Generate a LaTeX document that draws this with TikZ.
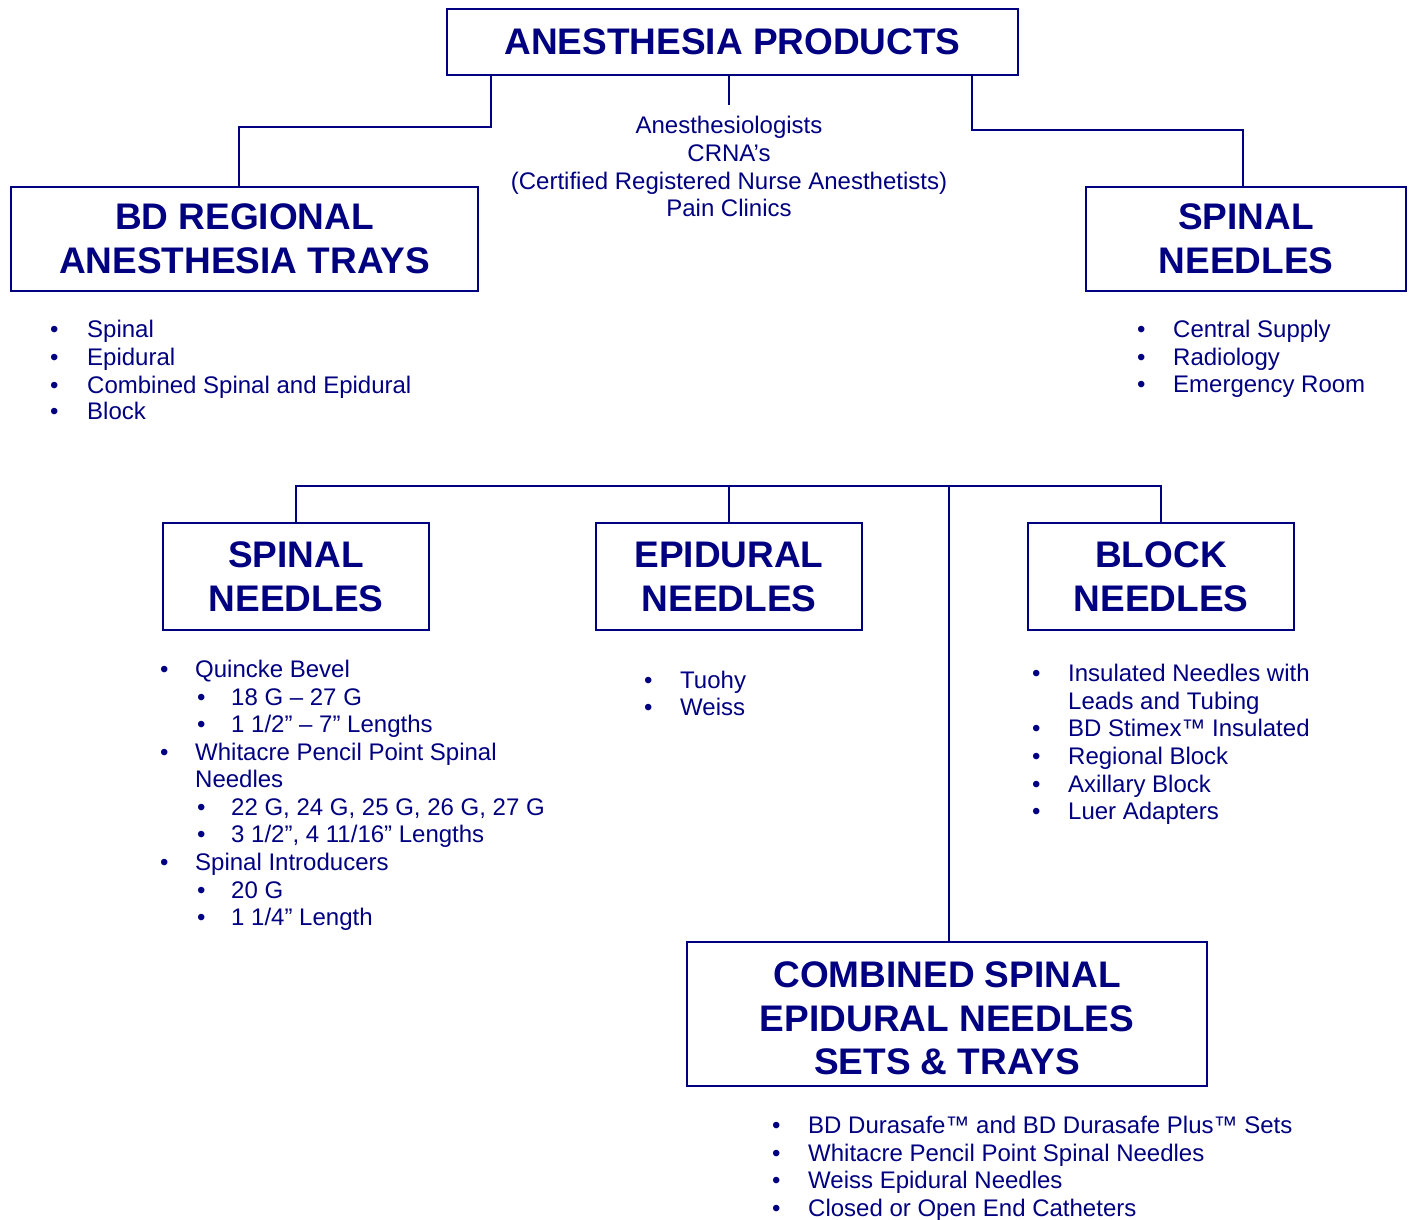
\documentclass[tikz,border=0pt]{standalone}
\usepackage{fontspec}
\setmainfont{Liberation Sans}
\definecolor{navy}{RGB}{0,0,128}
\tikzset{
  box/.style={draw=navy, line width=1.6pt, text=navy, font=\bfseries\fontsize{37}{44}\selectfont, align=center, inner sep=0pt},
  itm/.style={anchor=base west, inner sep=0pt, text=navy, font=\fontsize{24}{27.5}\selectfont},
  ctr/.style={anchor=base, inner sep=0pt, text=navy, font=\fontsize{24}{27.5}\selectfont},
  conn/.style={draw=navy, line width=1.6pt}
}
\newcommand\bitem[5]{\node[itm] (#1b) at (#2,#4) {•}; \node[itm] (#1) at (#3,#4) {#5};}
\newcommand\citem[3]{\node[itm] (#1) at (#2,#3) {};}
\begin{document}
\begin{tikzpicture}[x=1pt,y=-1pt]
\useasboundingbox (0,0) rectangle (1410,1220);

% boxes
\node[box, minimum width=571pt, minimum height=66pt] (top) at (732.5,42) {ANESTHESIA PRODUCTS};
\node[box, minimum width=467pt, minimum height=104pt] (trays) at (244.5,239) {BD REGIONAL\\ANESTHESIA TRAYS};
\node[box, minimum width=320pt, minimum height=104pt] (spn1) at (1246,239) {SPINAL\\NEEDLES};
\node[box, minimum width=266pt, minimum height=107pt] (spn2) at (296,576.5) {SPINAL\\NEEDLES};
\node[box, minimum width=266pt, minimum height=107pt] (epi) at (729,576.5) {EPIDURAL\\NEEDLES};
\node[box, minimum width=266pt, minimum height=107pt] (blk) at (1161,576.5) {BLOCK\\NEEDLES};
\node[box, minimum width=520pt, minimum height=144pt, font=\bfseries\fontsize{37}{43.5}\selectfont] (comb) at (947,1014)
  {\rule{0pt}{35pt}COMBINED SPINAL\\EPIDURAL NEEDLES\\SETS \& TRAYS};

% centre text
\node[ctr] (c1) at (729,134) {Anesthesiologists};
\node[ctr] (c2) at (729,161) {CRNA’s};
\node[ctr] (c3) at (729,189) {(Certified Registered Nurse Anesthetists)};
\node[ctr] (c4) at (729,216) {Pain Clinics};

% connectors
\coordinate (cend) at (729,105);
\draw[conn] (cend |- top.south) -- (cend);
\draw[conn] ([xshift=45pt]top.south west) -- ++(0,51) -| ([xshift=-5.5pt]trays.north);
\draw[conn] ([xshift=-47pt]top.south east) -- ++(0,54) -| ([xshift=-3pt]spn1.north);

\coordinate (bus) at (949,486);
\draw[conn] (spn2.north) -- (spn2.north |- bus) -| (blk.north);
\draw[conn] (epi.north) -- (epi.north |- bus);
\draw[conn] ([xshift=2pt]comb.north) -- ([xshift=2pt]comb.north |- bus);

% trays list
\bitem{t1}{50}{87}{337.5}{Spinal}
\bitem{t2}{50}{87}{365}{Epidural}
\bitem{t3}{50}{87}{393}{Combined Spinal and Epidural}
\bitem{t4}{50}{87}{419.5}{Block}

% spinal needles (top) list
\bitem{r1}{1137}{1173}{337}{Central Supply}
\bitem{r2}{1137}{1173}{365}{Radiology}
\bitem{r3}{1137}{1173}{392}{Emergency Room}

% spinal needles list
\bitem{s1}{160}{195}{677.5}{Quincke Bevel}
\bitem{s2}{197}{231}{705}{18 G – 27 G}
\bitem{s3}{197}{231}{732.5}{1 1/2” – 7” Lengths}
\bitem{s4}{160}{195}{760}{Whitacre Pencil Point Spinal}
\node[itm] (s5) at (195,787.5) {Needles};
\bitem{s6}{197}{231}{815}{22 G, 24 G, 25 G, 26 G, 27 G}
\bitem{s7}{197}{231}{842.5}{3 1/2”, 4 11/16” Lengths}
\bitem{s8}{160}{195}{870}{Spinal Introducers}
\bitem{s9}{197}{231}{898}{20 G}
\bitem{s10}{197}{231}{925.5}{1 1/4” Length}

% epidural list
\bitem{e1}{644}{680}{688.5}{Tuohy}
\bitem{e2}{644}{680}{715.5}{Weiss}

% block list
\bitem{b1}{1032}{1068}{681}{Insulated Needles with}
\node[itm] (b2) at (1068,709) {Leads and Tubing};
\bitem{b3}{1032}{1068}{736.5}{BD Stimex™ Insulated}
\bitem{b4}{1032}{1068}{764}{Regional Block}
\bitem{b5}{1032}{1068}{792}{Axillary Block}
\bitem{b6}{1032}{1068}{819}{Luer Adapters}

% combined list
\bitem{m1}{772}{808}{1133.5}{BD Durasafe™ and BD Durasafe Plus™ Sets}
\bitem{m2}{772}{808}{1161}{Whitacre Pencil Point Spinal Needles}
\bitem{m3}{772}{808}{1188.5}{Weiss Epidural Needles}
\bitem{m4}{772}{808}{1216}{Closed or Open End Catheters}
\end{tikzpicture}
\end{document}
